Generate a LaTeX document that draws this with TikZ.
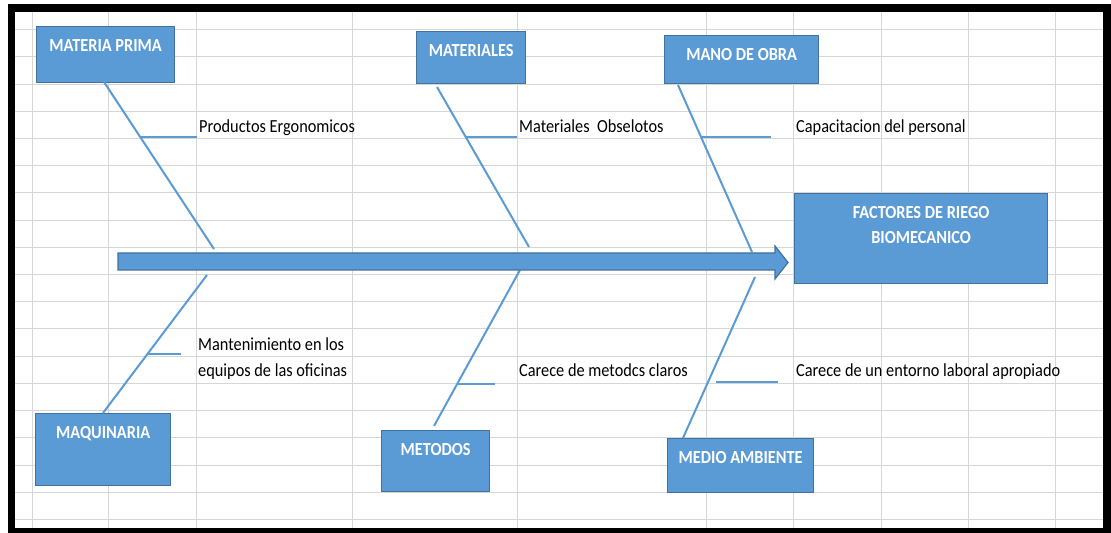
\documentclass[tikz,border=0pt]{standalone}
\usepackage{fontspec}
\setmainfont{Carlito}
\newfontfamily\lblfont[FakeStretch=0.885]{Carlito}
\definecolor{boxblue}{HTML}{5B9BD5}
\definecolor{boxedge}{HTML}{41719C}
\definecolor{gridgray}{HTML}{D6D6D6}
\begin{document}
\begin{tikzpicture}[x=1bp,y=-1bp,
  box/.style={draw=boxedge, fill=boxblue, line width=1.3bp, anchor=north west, inner sep=0pt},
  ttl/.style={text=white, font=\lblfont\bfseries\fontsize{18.5}{25}\selectfont, inner sep=0pt, anchor=base},
  lbl/.style={font=\lblfont\fontsize{18.5}{27}\selectfont, anchor=base west, inner sep=0pt, align=left},
  bone/.style={draw=boxblue, line width=2bp},
  gridline/.style={draw=gridgray, line width=1bp},
  bigarrow/.style={draw=boxedge, fill=boxblue, line width=1.2bp, line join=miter}
]
\useasboundingbox (0,0) rectangle (1111,533);
\fill[white] (0,0) rectangle (1111,533);
% spreadsheet grid
\foreach \gx in {32,108,196,352,517,706,793,881,968,1055}
  \draw[gridline] (\gx,12) -- (\gx,528);
\foreach \k in {0,...,18}
  \draw[gridline] (15,{29.8+27.2*\k}) -- (1103,{29.8+27.2*\k});

% boxes
\node[box, minimum width=138bp, minimum height=56bp] (mp) at (36,26) {};
\node[box, minimum width=109bp, minimum height=52bp] (mt) at (416,31) {};
\node[box, minimum width=154bp, minimum height=48bp] (mo) at (664,35) {};
\node[box, minimum width=253bp, minimum height=90bp] (fr) at (794,193) {};
\node[box, minimum width=135bp, minimum height=72bp] (mq) at (35,413) {};
\node[box, minimum width=108bp, minimum height=61bp] (me) at (381,430) {};
\node[box, minimum width=146bp, minimum height=54bp] (ma) at (667,438) {};

% bone end points
\coordinate (mpA) at (104,82);  \coordinate (mpB) at (214,249);
\coordinate (mtA) at (437,87);  \coordinate (mtB) at (529,247);
\coordinate (moA) at (678,85);  \coordinate (moB) at (752,252);
\coordinate (mqA) at (103,413); \coordinate (mqB) at (207,275);
\coordinate (meA) at (434,426); \coordinate (meB) at (520,270);
\coordinate (maA) at (683,438); \coordinate (maB) at (755,277);
\draw[bone] (mpA) -- (mpB);
\draw[bone] (mtA) -- (mtB);
\draw[bone] (moA) -- (moB);
\draw[bone] (mqA) -- (mqB);
\draw[bone] (meA) -- (meB);
\draw[bone] (maA) -- (maB);

% branch end points
\coordinate (b1A) at (141,137); \coordinate (b1B) at (197,137);
\coordinate (b2A) at (466,137); \coordinate (b2B) at (517,137);
\coordinate (b3A) at (702,137); \coordinate (b3B) at (771,137);
\coordinate (b4A) at (147,354); \coordinate (b4B) at (181,354);
\coordinate (b5A) at (457,384); \coordinate (b5B) at (495,384);
\coordinate (b6A) at (716,382); \coordinate (b6B) at (778,382);
\draw[bone] (b1A) -- (b1B);
\draw[bone] (b2A) -- (b2B);
\draw[bone] (b3A) -- (b3B);
\draw[bone] (b4A) -- (b4B);
\draw[bone] (b5A) -- (b5B);
\draw[bone] (b6A) -- (b6B);

% main arrow
\draw[bigarrow] (118,253) -- (775,253) -- (775,246) -- (788,262.5) -- (775,279) -- (775,270) -- (118,270) -- cycle;

% titles
\node[ttl] (mpt) at ([yshift=-25.5bp]mp.north) {MATERIA PRIMA};
\node[ttl] (mtt) at ([yshift=-25.5bp]mt.north) {MATERIALES};
\node[ttl] (mot) at ([yshift=-25.5bp]mo.north) {MANO DE OBRA};
\node[ttl, anchor=center, align=center] (frt) at ([yshift=-32bp]fr.north) {FACTORES DE RIEGO\\BIOMECANICO};
\node[ttl] (mqt) at ([yshift=-25bp]mq.north) {MAQUINARIA};
\node[ttl] (met) at ([yshift=-25.5bp]me.north) {METODOS};
\node[ttl] (mat) at ([yshift=-25.5bp]ma.north) {MEDIO AMBIENTE};

% cause labels
\node[lbl] (l1) at (199,133) {Productos Ergonomicos};
\node[lbl] (l2) at (519,133) {Materiales\ \ Obselotos};
\node[lbl] (l3) at (796,133) {Capacitacion del personal};
\node[lbl] (l4) at (198,377) {Mantenimiento en los\\equipos de las oficinas};
\node[lbl] (l5) at (519,377) {Carece de metodcs claros};
\node[lbl] (l6) at (796,377) {Carece de un entorno laboral apropiado};

% frame
\draw[black, line width=7.5bp] (11.5,8) rectangle (1107,531.5);
\end{tikzpicture}
\end{document}
